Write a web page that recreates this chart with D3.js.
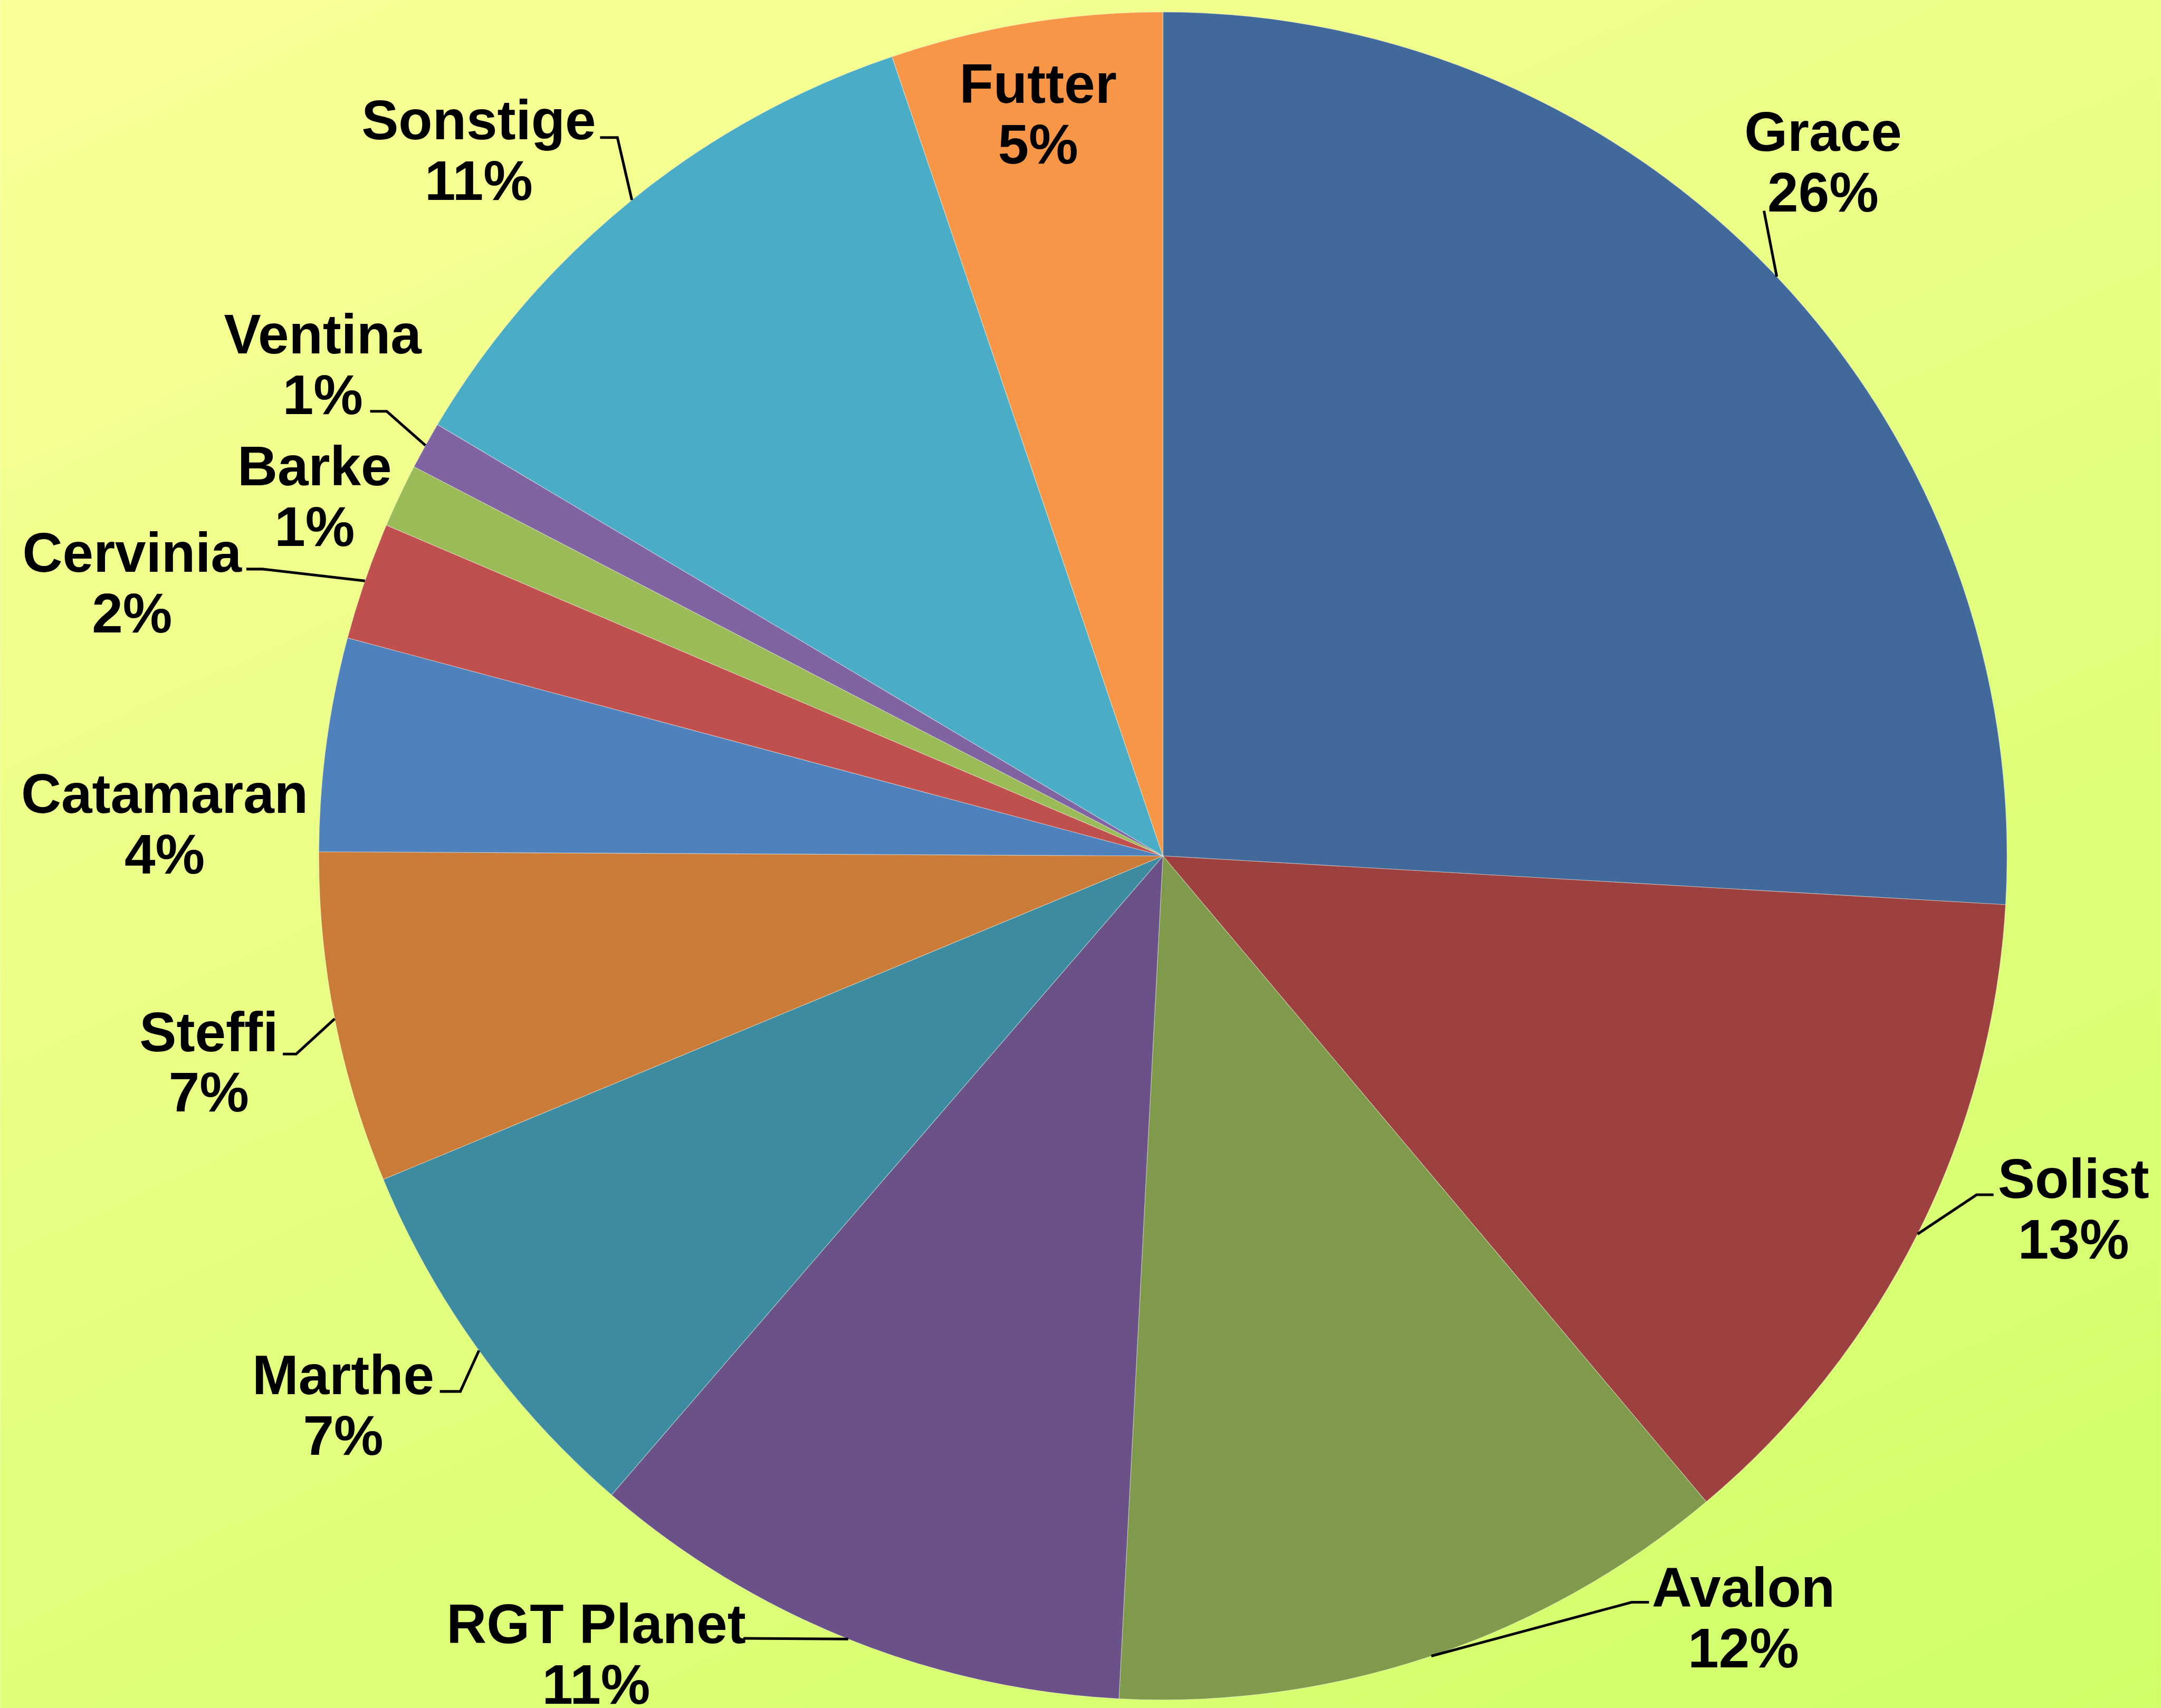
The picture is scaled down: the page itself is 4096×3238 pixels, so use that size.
<!DOCTYPE html>
<html>
<head>
<meta charset="utf-8">
<script src="https://cdn.jsdelivr.net/npm/d3@7"></script>
<style>
  html, body { margin: 0; padding: 0; overflow: hidden; }
  svg { display: block; }
</style>
</head>
<body>
<svg id="chart"></svg>
<script>
// data (share of area, %)
var varieties = ['Grace','Solist','Avalon','RGT Planet','Marthe','Steffi','Catamaran','Cervinia','Barke','Ventina','Sonstige','Futter'];
var shares = [25.92, 12.95, 11.96, 10.50, 7.41, 6.34, 4.08, 2.25, 1.22, 0.91, 11.26, 5.20];
var shareLabels = ['26%','13%','12%','11%','7%','7%','4%','2%','1%','1%','11%','5%'];
var colors = ['#416A9B','#9D4140','#7F9A4A','#6A5289','#3C8BA1','#CB7B38',
              '#4F81BD','#C0504D','#9BBB59','#8064A2','#4BACC6','#F79646'];

// layout, in reference pixels (6108 x 4829): label centre x, first baseline, leader elbow/end
var labelPos = {
  'Grace':      {x: 5153, y: 427,  lead: [[4986, 596]]},
  'Solist':     {x: 5861, y: 3387, lead: [[5587, 3378], [5635, 3378]]},
  'Avalon':     {x: 4928, y: 4543, lead: [[4612, 4530], [4661, 4530]]},
  'RGT Planet': {x: 1685, y: 4646, lead: [[2101, 4632]]},
  'Marthe':     {x: 970,  y: 3942, lead: [[1301, 3934], [1243, 3934]]},
  'Steffi':     {x: 590,  y: 2972, lead: [[837, 2980], [799, 2980]]},
  'Catamaran':  {x: 465,  y: 2298, lead: null},
  'Cervinia':   {x: 373,  y: 1617, lead: [[742, 1609], [696, 1609]]},
  'Barke':      {x: 889,  y: 1372, lead: null},
  'Ventina':    {x: 912,  y: 999,  lead: [[1093, 1163], [1046, 1163]]},
  'Sonstige':   {x: 1353, y: 394,  lead: [[1745, 389], [1696, 389]]},
  'Futter':     {x: 2934, y: 291,  lead: null}
};

var W = 6108, H = 4829;
var cx = 3287, cy = 2420, radius = 2386;
var fontSize = 157, lineGap = 171;

var svg = d3.select('#chart')
  .attr('width', 4096)
  .attr('height', 3238)
  .attr('viewBox', '0 0 ' + W + ' ' + H);

var defs = svg.append('defs');
var grad = defs.append('linearGradient')
  .attr('id', 'bg')
  .attr('gradientUnits', 'userSpaceOnUse')
  .attr('x1', 0).attr('y1', 0)
  .attr('x2', 3000).attr('y2', 6500);
grad.append('stop').attr('offset', 0).attr('stop-color', '#FBFF97');
grad.append('stop').attr('offset', 1).attr('stop-color', '#CEFF68');

svg.append('rect')
  .attr('width', W).attr('height', H)
  .attr('fill', 'url(#bg)');

var data = varieties.map(function(v, i) {
  return {name: v, value: shares[i], label: shareLabels[i], color: colors[i]};
});

var pie = d3.pie().sort(null).value(function(d) { return d.value; });
var arc = d3.arc().innerRadius(0).outerRadius(radius);
var arcs = pie(data);

var g = svg.append('g').attr('transform', 'translate(' + cx + ',' + cy + ')');

g.selectAll('path.slice')
  .data(arcs)
  .enter()
  .append('path')
  .attr('class', 'slice')
  .attr('d', arc)
  .attr('fill', function(d) { return d.data.color; })
  .attr('stroke', 'rgba(255,255,255,0.35)')
  .attr('stroke-width', 2);

// leader lines start on the rim at the slice's mid angle
var leaders = svg.append('g');
arcs.forEach(function(d) {
  var p = labelPos[d.data.name];
  if (!p.lead) return;
  var mid = (d.startAngle + d.endAngle) / 2;
  var pts = [[cx + radius * Math.sin(mid), cy - radius * Math.cos(mid)]].concat(p.lead);
  leaders.append('path')
    .attr('d', d3.line()(pts))
    .attr('fill', 'none')
    .attr('stroke', '#000')
    .attr('stroke-width', 7.5);
});

var labels = svg.append('g')
  .attr('font-family', '"Liberation Sans", Arial, sans-serif')
  .attr('font-weight', 'bold')
  .attr('font-size', fontSize)
  .attr('text-anchor', 'middle')
  .attr('fill', '#000');

arcs.forEach(function(d) {
  var p = labelPos[d.data.name];
  var t = labels.append('text').attr('x', p.x).attr('y', p.y);
  t.append('tspan').attr('x', p.x).attr('y', p.y).text(d.data.name);
  t.append('tspan').attr('x', p.x).attr('y', p.y + lineGap).text(d.data.label);
});
</script>
</body>
</html>
